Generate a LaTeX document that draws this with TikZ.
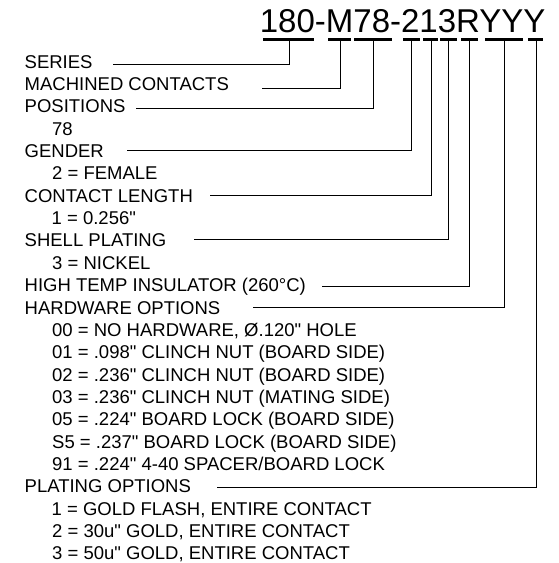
\documentclass[tikz,border=0pt]{standalone}
\usepackage{fontspec}
\setmainfont{Liberation Sans}[Ligatures=TeXOff]

\begin{document}
\begin{tikzpicture}[x=1pt,y=-1pt,
    lbl/.style={anchor=base west,inner sep=0pt,font=\fontsize{18.5}{22}\selectfont},
    bar/.style={line width=3pt},
    lead/.style={line width=1pt}]
            \useasboundingbox (0,0) rectangle (559,563);
            % part number
            \node[anchor=base west,inner sep=0pt,font=\fontsize{33}{36}\selectfont] (part) at (259.7,32.5) {180-M78-213RYYY};
            % bars under the groups
            \draw[bar] (263,39) -- (314,39);
            \draw[bar] (328,39) -- (351,39);
            \draw[bar] (354,39) -- (392,39);
            \draw[bar] (403,39) -- (420,39);
            \draw[bar] (423,39) -- (438,39);
            \draw[bar] (440,39) -- (457,39);
            \draw[bar] (461,39) -- (478,39);
            \draw[bar] (485,39) -- (523,39);
            \draw[bar] (528,39) -- (543,39);
            \coordinate (kSeries) at (289,39);
            \coordinate (kMach) at (340,39);
            \coordinate (kPos) at (373.5,39);
            \coordinate (kGender) at (411,39);
            \coordinate (kLength) at (431,39);
            \coordinate (kShell) at (448.5,39);
            \coordinate (kTemp) at (469,39);
            \coordinate (kHw) at (504,39);
            \coordinate (kPlate) at (536,39);
            % labels
            \node[lbl] (series) at (24.5,68) {SERIES};
            \node[lbl] (mach) at (24.5,90.4) {MACHINED CONTACTS};
            \node[lbl] (pos) at (24.5,112.7) {POSITIONS};
            \node[lbl] (pos78) at (52,135.1) {78};
            \node[lbl] (gender) at (24.5,157.4) {GENDER};
            \node[lbl] (gender2) at (52,179.8) {2 = FEMALE};
            \node[lbl] (length) at (24.5,202.2) {CONTACT LENGTH};
            \node[lbl] (length1) at (51.5,224.5) {1 = 0.256"};
            \node[lbl] (shell) at (24.5,246.9) {SHELL PLATING};
            \node[lbl] (shell3) at (52,269.2) {3 = NICKEL};
            \node[lbl] (temp) at (24.5,291.6) {HIGH TEMP INSULATOR (260°C)};
            \node[lbl] (hw) at (24.5,314) {HARDWARE OPTIONS};
            \node[lbl] (hw00) at (52,336.3) {00 = NO HARDWARE, Ø.120" HOLE};
            \node[lbl] (hw01) at (52,358.7) {01 = .098" CLINCH NUT (BOARD SIDE)};
            \node[lbl] (hw02) at (52,381) {02 = .236" CLINCH NUT (BOARD SIDE)};
            \node[lbl] (hw03) at (52,403.4) {03 = .236" CLINCH NUT (MATING SIDE)};
            \node[lbl] (hw05) at (52,425.8) {05 = .224" BOARD LOCK (BOARD SIDE)};
            \node[lbl] (hwS5) at (52,448.1) {S5 = .237" BOARD LOCK (BOARD SIDE)};
            \node[lbl] (hw91) at (52,470.5) {91 = .224" 4-40 SPACER/BOARD LOCK};
            \node[lbl] (plate) at (24.5,492.8) {PLATING OPTIONS};
            \node[lbl] (plate1) at (51.5,515.2) {1 = GOLD FLASH, ENTIRE CONTACT};
            \node[lbl] (plate2) at (52,537.6) {2 = 30u" GOLD, ENTIRE CONTACT};
            \node[lbl] (plate3) at (52,559.9) {3 = 50u" GOLD, ENTIRE CONTACT};
            % leader lines
            \coordinate (sSeries) at (113,64);
            \coordinate (sMach) at (262,88);
            \coordinate (sPos) at (136,108);
            \coordinate (sGender) at (127,150);
            \coordinate (sLength) at (210,195);
            \coordinate (sShell) at (194,239);
            \coordinate (sTemp) at (322,286);
            \coordinate (sHw) at (253,307.7);
            \coordinate (sPlate) at (217,487);
            \draw[lead] (sSeries) -| (kSeries);
            \draw[lead] (sMach) -| (kMach);
            \draw[lead] (sPos) -| (kPos);
            \draw[lead] (sGender) -| (kGender);
            \draw[lead] (sLength) -| (kLength);
            \draw[lead] (sShell) -| (kShell);
            \draw[lead] (sTemp) -| (kTemp);
            \draw[lead] (sHw) -| (kHw);
            \draw[lead] (sPlate) -| (kPlate);
        \end{tikzpicture}
\end{document}
